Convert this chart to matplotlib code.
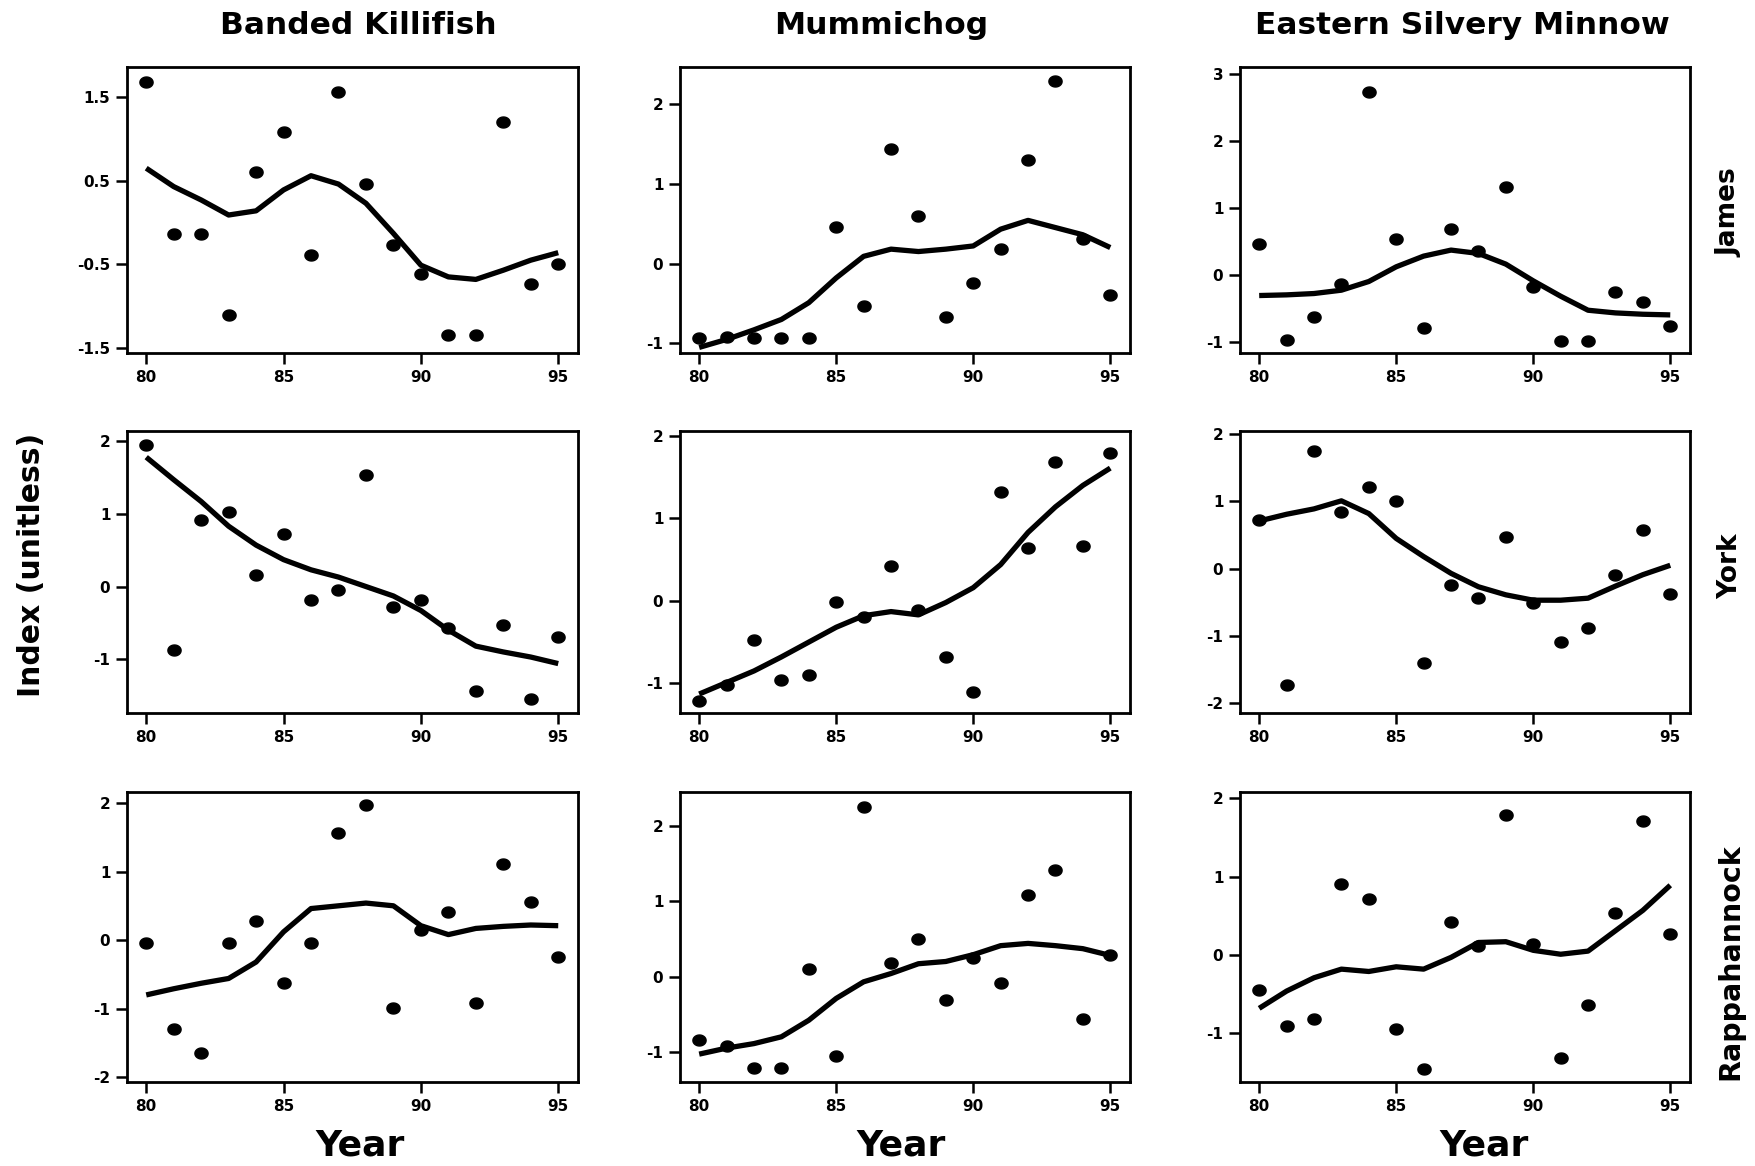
import numpy as np
import matplotlib
matplotlib.use("Agg")
import matplotlib.pyplot as plt
from matplotlib.path import Path

plt.rcParams['font.family'] = ['DejaVu Sans']
plt.rcParams['axes.unicode_minus'] = False

years = list(range(80, 96))
species = ["Banded Killifish", "Mummichog", "Eastern Silvery Minnow"]
rivers = ["James", "York", "Rappahannock"]

# observed index values (points)
bk_james_pts = [1.68, -0.14, -0.14, -1.11, 0.60, 1.08, -0.39, 1.56, 0.46, -0.27, -0.62, -1.34, -1.34, 1.20, -0.74, -0.50]
mu_james_pts = [-0.93, -0.92, -0.93, -0.93, -0.93, 0.46, -0.53, 1.43, 0.59, -0.67, -0.24, 0.18, 1.29, 2.28, 0.31, -0.40]
es_james_pts = [0.46, -0.98, -0.63, -0.14, 2.74, 0.53, -0.80, 0.69, 0.35, 1.31, -0.18, -0.99, -0.99, -0.25, -0.41, -0.76]
bk_york_pts = [1.95, -0.87, 0.92, 1.02, 0.16, 0.72, -0.19, -0.05, 1.53, -0.28, -0.19, -0.57, -1.44, -0.53, -1.55, -0.69]
mu_york_pts = [-1.21, -1.02, -0.48, -0.96, -0.90, -0.01, -0.20, 0.42, -0.11, -0.68, -1.10, 1.32, 0.64, 1.69, 0.67, 1.79]
es_york_pts = [0.72, -1.73, 1.75, 0.84, 1.22, 1.00, -1.40, -0.25, -0.43, 0.47, -0.51, -1.10, -0.88, -0.09, 0.58, -0.38]
bk_rapp_pts = [-0.04, -1.30, -1.65, -0.04, 0.28, -0.63, -0.04, 1.56, 1.97, -0.99, 0.15, 0.41, -0.92, 1.11, 0.55, -0.25]
mu_rapp_pts = [-0.84, -0.92, -1.21, -1.21, 0.10, -1.06, 2.25, 0.18, 0.50, -0.31, 0.25, -0.08, 1.08, 1.42, -0.57, 0.29]
es_rapp_pts = [-0.44, -0.90, -0.81, 0.91, 0.72, -0.94, -1.46, 0.42, 0.12, 1.79, 0.14, -1.31, -0.64, 0.53, 1.71, 0.27]

# smoothed trend values (lines)
bk_james_fit = [0.65, 0.43, 0.27, 0.09, 0.14, 0.39, 0.56, 0.46, 0.23, -0.13, -0.51, -0.65, -0.68, -0.57, -0.45, -0.36]
mu_james_fit = [-1.05, -0.95, -0.83, -0.70, -0.49, -0.18, 0.09, 0.18, 0.15, 0.18, 0.22, 0.43, 0.54, 0.45, 0.36, 0.20]
es_james_fit = [-0.31, -0.30, -0.28, -0.23, -0.10, 0.12, 0.28, 0.37, 0.32, 0.16, -0.09, -0.32, -0.53, -0.57, -0.59, -0.60]
bk_york_fit = [1.78, 1.47, 1.17, 0.83, 0.57, 0.37, 0.23, 0.13, 0.00, -0.13, -0.33, -0.60, -0.82, -0.90, -0.97, -1.06]
mu_york_fit = [-1.13, -0.99, -0.85, -0.68, -0.50, -0.32, -0.18, -0.13, -0.17, -0.02, 0.16, 0.44, 0.83, 1.14, 1.40, 1.61]
es_york_fit = [0.71, 0.81, 0.89, 1.01, 0.82, 0.45, 0.18, -0.07, -0.27, -0.39, -0.47, -0.47, -0.44, -0.26, -0.09, 0.05]
bk_rapp_fit = [-0.80, -0.71, -0.63, -0.56, -0.32, 0.12, 0.46, 0.50, 0.54, 0.50, 0.21, 0.08, 0.17, 0.20, 0.22, 0.21]
mu_rapp_fit = [-1.03, -0.95, -0.89, -0.80, -0.58, -0.29, -0.07, 0.04, 0.17, 0.20, 0.29, 0.41, 0.44, 0.41, 0.37, 0.28]
es_rapp_fit = [-0.68, -0.46, -0.29, -0.18, -0.21, -0.15, -0.18, -0.03, 0.16, 0.17, 0.06, 0.01, 0.05, 0.31, 0.57, 0.89]

points = [[bk_james_pts, mu_james_pts, es_james_pts],
          [bk_york_pts, mu_york_pts, es_york_pts],
          [bk_rapp_pts, mu_rapp_pts, es_rapp_pts]]
fits = [[bk_james_fit, mu_james_fit, es_james_fit],
        [bk_york_fit, mu_york_fit, es_york_fit],
        [bk_rapp_fit, mu_rapp_fit, es_rapp_fit]]

x_ticks = [80, 85, 90, 95]
y_ticks = [[[1.5, 0.5, -0.5, -1.5], [-1, 0, 1, 2], [-1, 0, 1, 2, 3]],
           [[-1, 0, 1, 2], [-1, 0, 1, 2], [-2, -1, 0, 1, 2]],
           [[-2, -1, 0, 1, 2], [-1, 0, 1, 2], [-1, 0, 1, 2]]]
y_ticklabels = [[["1.5", "0.5", "-0.5", "-1.5"], ["-1", "0", "1", "2"], ["-1", "0", "1", "2", "3"]],
                [["-1", "0", "1", "2"], ["-1", "0", "1", "2"], ["-2", "-1", "0", "1", "2"]],
                [["-2", "-1", "0", "1", "2"], ["-1", "0", "1", "2"], ["-1", "0", "1", "2"]]]
y_limits = [[(-1.56, 1.86), (-1.12, 2.46), (-1.17, 3.11)],
            [(-1.74, 2.14), (-1.36, 2.06), (-2.15, 2.05)],
            [(-2.07, 2.16), (-1.40, 2.45), (-1.62, 2.08)]]

W, H = 1756, 1166
fig = plt.figure(figsize=(W / 100, H / 100), dpi=100)

col_px = [(127, 578), (680, 1130), (1240, 1690)]
row_px = [(67, 353), (431, 713), (792, 1082)]

t = np.linspace(0, 2 * np.pi, 40)
ell = Path(np.column_stack([1.2 * np.cos(t), np.sin(t)]), closed=True)

for r in range(3):
    for c in range(3):
        l, rr = col_px[c]
        top, bot = row_px[r]
        ax = fig.add_axes([l / W, 1 - bot / H, (rr - l) / W, (bot - top) / H])
        ax.plot(years, fits[r][c], color='black', lw=3.8, solid_capstyle='butt', zorder=3)
        ax.plot(years, points[r][c], linestyle='none', marker=ell, markersize=9.5,
                color='black', zorder=4)
        ax.set_xlim(79.3, 95.72)
        ax.set_ylim(*y_limits[r][c])
        ax.set_xticks(x_ticks)
        ax.set_xticklabels([str(v) for v in x_ticks])
        ax.set_yticks(y_ticks[r][c])
        ax.set_yticklabels(y_ticklabels[r][c])
        for s in ax.spines.values():
            s.set_linewidth(2.0)
        ax.tick_params(direction='out', length=8, width=1.8, labelsize=11,
                       top=False, right=False, pad=4)
        for lab in ax.get_xticklabels() + ax.get_yticklabels():
            lab.set_fontweight('bold')

title_x = [358, 881, 1462]
for c in range(3):
    fig.text(title_x[c] / W, 1 - 25 / H, species[c], ha='center', va='center',
             fontsize=22.5, fontweight='bold')

year_x = [360, 901, 1484]
for c in range(3):
    fig.text(year_x[c] / W, 1 - 1145 / H, "Year", ha='center', va='center',
             fontsize=26, fontweight='bold')

river_y = [213, 566, 962]
river_size = [19, 19, 20.5]
for r in range(3):
    fig.text(1730 / W, 1 - river_y[r] / H, rivers[r], ha='center', va='center',
             rotation=90, fontsize=river_size[r], fontweight='bold')

fig.text(32 / W, 1 - 565 / H, "Index (unitless)", ha='center', va='center',
         rotation=90, fontsize=21.5, fontweight='bold')

fig.savefig("out.png", dpi=100)
